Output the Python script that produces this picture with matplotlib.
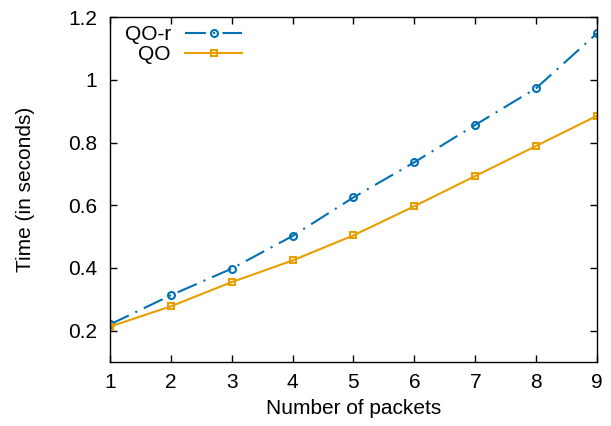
import matplotlib
matplotlib.use('Agg')
import matplotlib.pyplot as plt

# data
packets = [1, 2, 3, 4, 5, 6, 7, 8, 9]
qo_r = [0.22, 0.313, 0.398, 0.502, 0.625, 0.737, 0.856, 0.973, 1.148]
qo = [0.213, 0.278, 0.355, 0.424, 0.504, 0.597, 0.693, 0.789, 0.885]
yticks = [0.2, 0.4, 0.6, 0.8, 1.0, 1.2]
ytick_labels = ['0.2', '0.4', '0.6', '0.8', '1', '1.2']

plt.rcParams['font.family'] = ['Liberation Sans', 'DejaVu Sans']
plt.rcParams['font.size'] = 15

fig = plt.figure(figsize=(6.11, 4.26), dpi=100)
ax = fig.add_axes([0.180, 0.150, 0.797, 0.810])

ax.plot(packets, qo_r, color='#0072B2', linestyle=(0, (10, 3.5, 1, 3.5)), linewidth=1.5,
        marker='o', markersize=5, markerfacecolor='none', markeredgewidth=1.5, label='QO-r')
ax.plot(packets, qo, color='#E69F00', linestyle='-', linewidth=1.5,
        marker='s', markersize=5, markerfacecolor='none', markeredgewidth=1.5, label='QO')

ax.set_xlim(1, 9)
ax.set_ylim(0.1, 1.2)
ax.set_xticks(packets)
ax.set_yticks(yticks)
ax.set_yticklabels(ytick_labels)
ax.tick_params(direction='in', top=True, right=True, length=5, width=1)
ax.tick_params(axis='y', pad=9)
ax.tick_params(axis='x', pad=8)
ax.set_xlabel('Number of packets', labelpad=5)
ax.set_ylabel('Time (in seconds)', labelpad=24)
for s in ax.spines.values():
    s.set_linewidth(1)

ax.legend(loc='upper left', markerfirst=False, frameon=False, handlelength=2.7,
          borderaxespad=0.0, labelspacing=0.05, handletextpad=0.7,
          bbox_to_anchor=(0.013, 1.0))
leg = ax.get_legend()
for t in leg.get_texts():
    t.set_ha('right')
leg._legend_box.align = 'right'

fig.savefig('out.png', dpi=100)
